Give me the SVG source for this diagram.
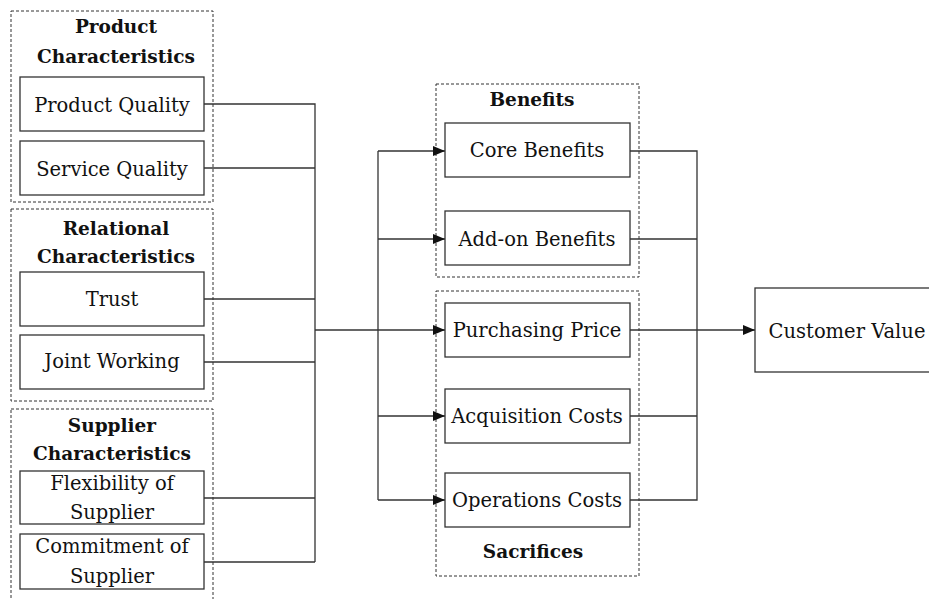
<svg xmlns="http://www.w3.org/2000/svg" width="929" height="599" viewBox="0 0 929 599">
<style>
.grp{fill:none;stroke:#333;stroke-width:1;stroke-dasharray:3,2}
.box{fill:#fff;stroke:#333;stroke-width:1.3}
text{font-family:'DejaVu Serif','Liberation Serif',serif;font-size:19.5px;fill:#111;text-anchor:middle}
.b{font-weight:bold;font-size:18.5px}
.ln{fill:none;stroke:#333;stroke-width:1.3}
</style>
<defs>
<marker id="ah" markerWidth="12" markerHeight="10" refX="12" refY="5" orient="auto" markerUnits="userSpaceOnUse">
<path d="M0,0 L12,5 L0,10 Z" fill="#111"/>
</marker>
</defs>
<rect width="929" height="599" fill="#fff"/>
<g id="groups">
<g id="grp-product"><rect class="grp" x="11" y="11" width="202" height="191"/><text class="b" x="116" y="33">Product</text><text class="b" x="116" y="63">Characteristics</text></g>
<g id="grp-relational"><rect class="grp" x="11" y="209" width="202" height="192"/><text class="b" x="116" y="235">Relational</text><text class="b" x="116" y="263">Characteristics</text></g>
<g id="grp-supplier"><rect class="grp" x="11" y="409" width="202" height="195"/><text class="b" x="112" y="432">Supplier</text><text class="b" x="112" y="460">Characteristics</text></g>
<g id="grp-benefits"><rect class="grp" x="436" y="84" width="203" height="193"/><text class="b" x="532" y="106">Benefits</text></g>
<g id="grp-sacrifices"><rect class="grp" x="436" y="291" width="203" height="285"/><text class="b" x="533" y="558">Sacrifices</text></g>
</g>
<g id="connectors">
<path class="ln" d="M204,104 H315 V562 M204,168 H315 M204,299 H315 M204,362 H315 M204,498 H315 M204,562 H315"/>
<path class="ln" d="M315,330 H445" marker-end="url(#ah)"/>
<path class="ln" d="M378,151 V500"/>
<path class="ln" d="M378,151 H445" marker-end="url(#ah)"/>
<path class="ln" d="M378,239 H445" marker-end="url(#ah)"/>
<path class="ln" d="M378,416 H445" marker-end="url(#ah)"/>
<path class="ln" d="M378,500 H445" marker-end="url(#ah)"/>
<path class="ln" d="M630,151 H697 V500 H630 M630,239 H697 M630,330 H697 M630,416 H697"/>
<path class="ln" d="M697,330 H755" marker-end="url(#ah)"/>
</g>
<g id="nodes">
<g id="n-product-quality"><rect class="box" x="20" y="77" width="184" height="54"/><text x="112" y="112">Product Quality</text></g>
<g id="n-service-quality"><rect class="box" x="20" y="141" width="184" height="54"/><text x="112" y="176">Service Quality</text></g>
<g id="n-trust"><rect class="box" x="20" y="272" width="184" height="54"/><text x="112" y="306">Trust</text></g>
<g id="n-joint-working"><rect class="box" x="20" y="335" width="184" height="54"/><text x="112" y="368">Joint Working</text></g>
<g id="n-flexibility"><rect class="box" x="20" y="471" width="184" height="53"/><text x="112" y="490">Flexibility of</text><text x="112" y="519">Supplier</text></g>
<g id="n-commitment"><rect class="box" x="20" y="534" width="184" height="55"/><text x="112" y="553">Commitment of</text><text x="112" y="583">Supplier</text></g>
<g id="n-core-benefits"><rect class="box" x="445" y="123" width="185" height="54"/><text x="537" y="157">Core Benefits</text></g>
<g id="n-addon-benefits"><rect class="box" x="445" y="211" width="185" height="54"/><text x="537" y="246">Add-on Benefits</text></g>
<g id="n-purchasing-price"><rect class="box" x="445" y="303" width="185" height="54"/><text x="537" y="337">Purchasing Price</text></g>
<g id="n-acquisition-costs"><rect class="box" x="445" y="389" width="185" height="54"/><text x="537" y="423">Acquisition Costs</text></g>
<g id="n-operations-costs"><rect class="box" x="445" y="473" width="185" height="54"/><text x="537" y="507">Operations Costs</text></g>
<g id="n-customer-value"><rect class="box" x="755" y="288" width="185" height="84"/><text x="847" y="338">Customer Value</text></g>
</g>
</svg>
